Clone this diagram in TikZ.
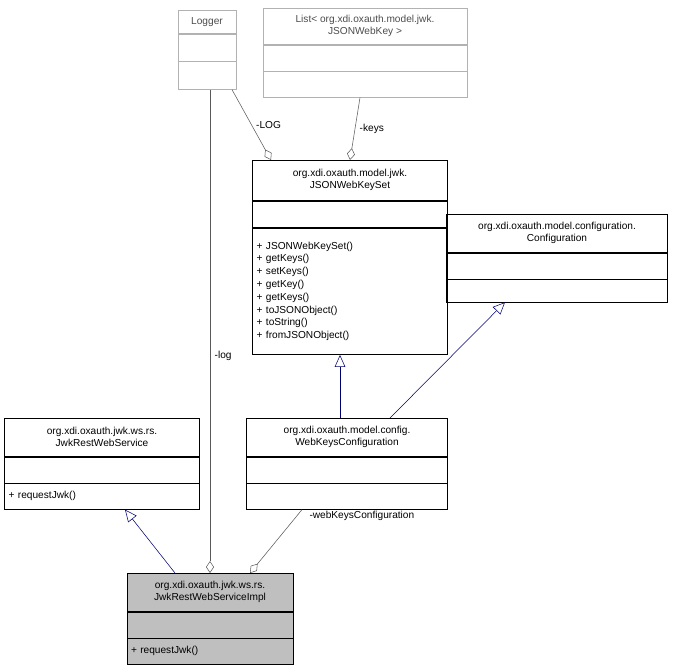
\documentclass[tikz,border=0pt]{standalone}
\usepackage{fontspec}
\setmainfont{Liberation Sans}
\usetikzlibrary{positioning, arrows.meta}
\tikzstyle{cls}=[draw, inner sep=2pt, align=center, font=\fontsize{7.6}{9}\selectfont]
\tikzstyle{mem}=[draw, inner sep=3pt, align=left, font=\fontsize{7.6}{9.6}\selectfont]
\tikzstyle{uses}=[draw=black!65, -{Diamond[open,length=9pt,width=6pt]}]
\tikzstyle{inherit}=[draw=blue!45!black, -{Triangle[open,length=9pt,width=8pt]}]
\tikzstyle{lbl}=[font=\fontsize{7.6}{9}\selectfont]
\begin{document}
\begin{tikzpicture}[x=0.75pt, y=-0.75pt, node distance=0pt]
\useasboundingbox (0,0) rectangle (674,669);
% Logger
\node[cls, draw=black!30, minimum width=43.5pt, minimum height=17.25pt, anchor=north, text=black!70] (logger) at (207,10) {Logger};
\node[mem, draw=black!30, minimum width=43.5pt, minimum height=20.25pt, below=of logger] (loggerA) {};
\node[mem, draw=black!30, minimum width=43.5pt, minimum height=21pt, below=of loggerA] (loggerM) {};
% List
\node[cls, draw=black!30, minimum width=153pt, minimum height=27pt, anchor=north, text=black!70] (list) at (365,8) {List< org.xdi.oxauth.model.jwk.\\JSONWebKey >};
\node[mem, draw=black!30, minimum width=153pt, minimum height=19.5pt, below=of list] (listA) {};
\node[mem, draw=black!30, minimum width=153pt, minimum height=19.5pt, below=of listA] (listM) {};
% JSONWebKeySet
\node[cls, minimum width=146pt, minimum height=30pt, anchor=north] (jwks) at (350,160) {org.xdi.oxauth.model.jwk.\\JSONWebKeySet};
\node[mem, minimum width=146pt, minimum height=20pt, below=of jwks] (jwksA) {};
\node[mem, minimum width=146pt, text width=140pt, minimum height=95pt, below=of jwksA] (jwksM) {+ JSONWebKeySet()\\+ getKeys()\\+ setKeys()\\+ getKey()\\+ getKeys()\\+ toJSONObject()\\+ toString()\\+ fromJSONObject()};
% Configuration
\node[cls, minimum width=166pt, minimum height=28.5pt, anchor=north] (conf) at (557,214) {org.xdi.oxauth.model.configuration.\\Configuration};
\node[mem, minimum width=166pt, minimum height=19.5pt, below=of conf] (confA) {};
\node[mem, minimum width=166pt, minimum height=17pt, below=of confA] (confM) {};
% JwkRestWebService
\node[cls, minimum width=146pt, minimum height=28.5pt, anchor=north] (rest) at (102,418) {org.xdi.oxauth.jwk.ws.rs.\\JwkRestWebService};
\node[mem, minimum width=146pt, minimum height=19.5pt, below=of rest] (restA) {};
\node[mem, minimum width=146pt, text width=140pt, minimum height=19.5pt, below=of restA] (restM) {+ requestJwk()};
% WebKeysConfiguration
\node[cls, minimum width=151pt, minimum height=28.5pt, anchor=north] (wkc) at (347,418) {org.xdi.oxauth.model.config.\\WebKeysConfiguration};
\node[mem, minimum width=151pt, minimum height=19.5pt, below=of wkc] (wkcA) {};
\node[mem, minimum width=151pt, minimum height=19.5pt, below=of wkcA] (wkcM) {};
% JwkRestWebServiceImpl
\node[cls, fill=black!25, minimum width=124.5pt, minimum height=28.5pt, anchor=north] (impl) at (210,573) {org.xdi.oxauth.jwk.ws.rs.\\JwkRestWebServiceImpl};
\node[mem, fill=black!25, minimum width=124.5pt, minimum height=19.5pt, below=of impl] (implA) {};
\node[mem, fill=black!25, minimum width=124.5pt, text width=118.5pt, minimum height=19.5pt, below=of implA] (implM) {+ requestJwk()};

\draw[uses] ([xshift=2.25pt]loggerM.south) -- (impl.north) node[lbl, pos=0.55, right] {-log};
\draw[uses] ([xshift=18.75pt]loggerM.south) -- ([xshift=-59.25pt]jwks.north) node[lbl, midway, right] {-LOG};
\draw[uses] ([xshift=-3.75pt]listM.south) -- ([xshift=0pt]jwks.north) node[lbl, midway, right] {-keys};
\draw[uses] ([xshift=-33.75pt]wkcM.south) -- ([xshift=30pt]impl.north) node[lbl, pos=0.1, right=6pt] {-webKeysConfiguration};
\draw[inherit] ([xshift=-5.25pt]wkc.north) -- ([xshift=-7.5pt]jwksM.south);
\draw[inherit] ([xshift=32.25pt]wkc.north) -- ([xshift=-39pt]confM.south);
\draw[inherit] ([xshift=-26.25pt]impl.north) -- ([xshift=17.25pt]restM.south);
\end{tikzpicture}
\end{document}
